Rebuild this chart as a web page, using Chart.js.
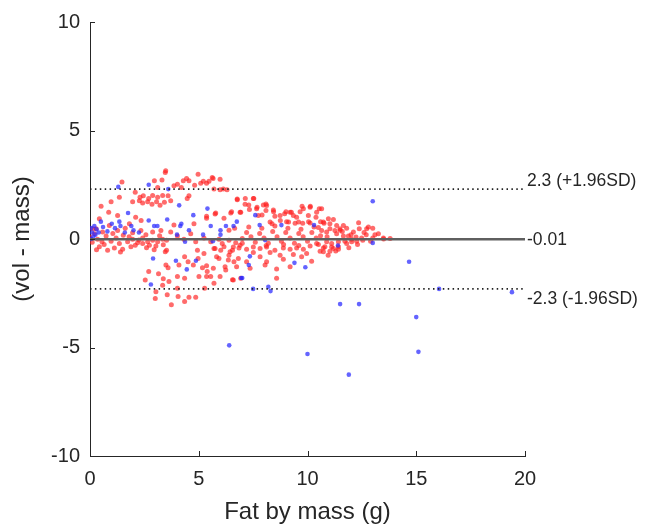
<!DOCTYPE html>
<html>
<head>
<meta charset="utf-8">
<script src="https://cdn.jsdelivr.net/npm/chart.js@4"></script>
<style>
  html, body { margin: 0; padding: 0; background: #fff; }
  #wrap { width: 647px; height: 529px; }
</style>
</head>
<body>
<div id="wrap"><canvas id="baChart" width="647" height="529"></canvas></div>
<script>
// Titik merah: [fat by mass, vol - mass]
const redPoints = [
    [1.47,2.63],[2.96,2.68],[3.31,2.72],[3.46,3.06],[3.11,2.37],[2.08,2.15],[1.35,1.92],[0.97,1.72],
    [2.3,1.92],[2.45,1.99],[2.7,1.87],[2.88,2.0],[3.11,1.92],[3.34,2.0],
    [1.96,1.72],[2.27,1.76],[2.42,1.66],[2.65,1.72],[2.85,1.6],[3.06,1.72],[3.22,1.56],[3.42,1.69],
    [0.51,1.51],[0.86,1.23],[1.27,1.08],[2.1,1.0],[2.35,0.85],[1.81,0.7],[0.43,0.93],[0.12,0.47],
    [0.0,0.09],[0.2,0.24],[0.35,-0.01],[0.55,-0.13],[0.74,0.14],[0.97,-0.1],[1.2,0.05],[1.35,-0.21],
    [1.53,0.17],[1.73,-0.13],[1.96,-0.01],[2.19,-0.17],[2.42,0.05],[2.65,-0.13],[2.88,-0.06],[3.11,-0.13],
    [3.34,-0.01],[0.43,-0.36],[0.81,-0.52],[1.12,-0.41],[1.5,-0.47],[1.88,-0.36],[0.58,0.32],[0.28,0.47],
    [1.27,0.39],[1.96,0.29],[2.34,0.39],[3.26,0.39],[2.88,0.32],[1.62,0.5],[0.89,0.62],[2.57,0.2],
    [2.08,-0.29],[2.42,-0.21],[2.73,-0.29],[3.03,-0.32],[3.37,-0.26],
    [0.1,-0.15],[0.65,-0.25],[1.05,0.25],[1.8,0.1],[2.25,-0.05],[2.6,-0.4],[3.2,0.15],[1.4,-0.6],[0.3,-0.5],[2.95,-0.5],
    [2.54,-1.89],[3.03,-2.43],[3.0,-2.74],[3.34,-2.13],[3.37,-1.83],[3.49,-1.2],[3.46,-0.59],[2.7,-1.5],[3.15,-1.6],
    [3.48,3.14],[4.44,2.79],[4.29,2.68],[4.55,2.68],[4.97,2.98],[5.62,2.83],[5.98,2.75],[4.02,2.52],
    [3.86,2.45],[4.2,2.37],[4.81,2.48],[5.09,2.57],[5.36,2.57],[5.7,2.3],[6.13,2.3],[3.59,1.99],
    [3.71,1.76],[4.55,1.99],[4.47,1.87],[6.77,1.84],[5.78,1.2],[6.16,0.96],[6.47,1.2],[6.93,1.23],
    [5.36,1.05],[6.39,0.4],[6.65,0.5],[3.86,0.65],[4.78,0.7],
    [5.66,2.79],[5.21,2.66],[5.47,2.66],[5.98,2.27],[6.3,2.27],
    [3.52,-0.06],[3.52,-0.52],[3.71,0.32],[4.02,0.14],[4.32,-0.01],[4.63,0.24],[4.86,-0.13],[5.24,0.05],
    [5.55,-0.13],[5.93,-0.01],[6.08,-0.21],[6.39,-0.06],[6.7,-0.17],[7.0,0.02],[5.7,-0.44],[6.16,-0.36],
    [6.55,-0.52],[6.85,-0.41],
    [4.94,-0.52],[4.97,-0.9],[5.24,-0.67],[4.75,-1.2],[5.17,-1.32],[5.36,-1.23],[5.39,-1.5],[5.01,-1.73],
    [5.55,-1.73],[4.35,-0.82],[4.51,-1.05],[4.09,-1.2],[3.59,-1.32],[4.02,-1.73],[4.35,-1.81],[3.63,-1.96],
    [4.02,-2.27],[3.55,-2.57],[4.05,-2.65],[4.55,-2.69],[4.86,-2.69],[3.74,-3.03],[4.35,-2.88],[5.93,-0.9],
    [6.39,-0.75],[6.62,-1.05],[6.24,-1.43],[6.55,-1.88],[6.93,-1.81],[5.7,-2.04],[5.27,-2.27],
    [5.75,-0.44],[6.01,-0.52],[6.44,-0.59],[6.59,-0.37],[6.9,-0.29],[7.2,-0.47],[7.51,-0.37],[7.82,-0.44],
    [8.12,-0.37],[8.5,-0.52],[8.89,-0.41],[9.2,-0.47],[9.5,-0.41],[9.81,-0.47],[10.12,-0.32],[10.42,-0.21],
    [10.73,-0.41],[11.11,-0.37],[11.42,-0.47],[11.8,-0.21],[7.51,-0.62],[8.28,-0.62],[8.74,-0.75],[9.35,-0.72],
    [9.96,-0.67],[10.58,-0.56],[5.82,-0.82],[6.36,-0.97],[6.82,-0.9],[7.2,-1.05],[7.82,-0.82],[8.12,-1.05],
    [8.89,-0.93],[9.73,-0.82],[10.19,-1.02],[5.67,-1.35],[6.21,-1.28],[6.74,-1.28],[7.36,-1.35],[8.05,-1.2],
    [8.58,-1.38],[9.2,-1.28],[5.36,-1.73],[5.98,-1.73],[6.59,-1.89],[8.58,-1.81],
    [6.77,1.81],[7.51,1.87],[7.13,1.6],[7.33,1.36],[6.9,1.23],[6.51,1.26],[5.75,1.15],[5.36,0.96],
    [7.97,1.57],[8.12,1.54],[8.09,1.31],[7.74,1.08],[7.66,1.39],[8.43,1.34],[8.5,1.05],[8.28,0.78],
    [8.74,1.08],[9.01,1.26],[9.2,1.23],[9.35,1.08],[9.5,1.0],[9.66,1.26],[9.81,1.39],[10.12,1.46],
    [10.04,1.08],[10.42,1.23],[10.6,0.8],[10.96,0.93],[11.19,0.9],[11.34,0.62],[11.65,0.62],[9.04,0.8],
    [9.43,0.73],[9.78,0.73],[10.12,0.74],[10.5,0.53],[10.76,0.73],[11.03,0.47],[11.5,0.4],
    [7.14,1.87],[7.53,1.87],[7.3,1.57],[7.68,1.46],[8.09,1.61],[7.91,1.11],[8.44,1.26],[8.95,1.16],
    [9.26,1.23],[9.75,1.51],[10.13,1.51],[10.54,1.39],[9.13,0.78],[9.59,0.78],[10.05,0.8],[10.39,1.0],
    [8.37,0.7],[8.75,0.85],
    [7.2,0.3],[7.4,0.1],[7.6,-0.15],[7.8,0.25],[8.0,0.05],[8.2,-0.2],[8.4,0.35],[8.6,0.1],
    [8.8,-0.1],[9.0,0.3],[9.2,0.05],[9.4,-0.2],[9.6,0.25],[9.8,0.1],[10.0,-0.1],[10.2,0.3],
    [10.4,0.05],[10.6,0.15],[7.3,0.55],[7.9,0.5],[8.5,0.6],[9.1,0.5],[9.7,0.45],[10.3,0.55],
    [7.0,-0.2],[8.1,-0.3],[8.9,-0.25],[9.6,-0.3],[10.5,-0.25],[10.9,0.1],[11.6,0.35],[12.0,0.2],
    [12.7,0.2],[12.9,-0.1],[12.6,0.3],[13.0,0.05],[13.5,0.0],[13.8,0.02],[12.3,-0.25],[11.9,-0.4],
    [11.3,-0.55],[10.95,-0.75],[12.35,0.75],[13.0,0.5],
    [10.65,1.39],[10.73,0.78],[11.03,0.7],
    [10.65,0.39],[10.88,0.32],[11.26,0.39],[11.34,0.24],[11.49,0.47],[11.8,0.5],[12.11,0.32],[12.38,0.47],
    [12.72,0.47],[12.8,0.55],[13.1,0.2],[13.26,0.24],[13.49,0.05],[11.65,0.14],[11.88,0.14],[12.03,-0.01],
    [12.23,0.09],[12.49,0.05],[10.88,-0.13],[11.11,-0.21],[11.42,-0.13],[11.72,-0.1],[12.03,-0.13],[12.26,-0.1],
    [12.54,-0.06],[10.8,-0.36],[11.19,-0.44],[11.42,-0.36],[10.73,-0.59],[11.03,-0.56]
];

// Titik biru
const bluePoints = [
    [13.0,1.74],[13.0,-0.18],[14.67,-1.05],[16.05,-2.3],[19.4,-2.45],[11.5,-3.0],[12.37,-3.0],[15.0,-3.6],
    [6.4,-4.9],[10.0,-5.3],[15.1,-5.2],[11.9,-6.25],[11.4,-0.3],
    [7.5,-2.3],[8.2,-2.2],[8.3,-2.4],[7.0,-1.8],[9.4,-1.1],[9.9,-1.3],[7.35,-0.8],[8.05,-0.05],
    [7.6,1.1],[7.8,0.64],[8.8,0.64],[10.3,0.64],
    [5.4,1.4],[5.55,0.6],[5.2,0.2],[6.0,0.4],[6.0,0.2],[5.65,-0.1],[6.25,0.6],[6.6,0.6],[6.75,0.8],[7.3,-1.2],
    [3.6,2.3],[4.1,1.55],[3.55,0.9],[4.2,0.7],[4.15,0.6],[4.0,0.2],[4.55,0.4],[4.37,-0.13],[4.75,1.1],
    [3.95,-1.0],[4.87,-1.0],[4.45,-1.4],[6.95,-1.8],
    [1.3,2.4],[2.7,2.5],[1.75,1.2],[0.5,0.8],[0.6,0.55],[1.0,0.7],[1.35,0.8],[1.4,0.6],[1.6,0.3],
    [1.9,0.6],[2.0,0.4],[2.25,0.3],[2.7,0.85],[2.95,0.6],[3.1,0.6],[2.9,-0.9],[2.8,-2.1],
    [0.4,0.3],[0.05,0.5],[0.1,0.3],[0.15,0.1],[0.2,0.6],[0.25,0.2],[0.3,0.45],[0.8,0.35],[1.15,0.5],[0.05,0.0]
];

// Garis referensi: rata-rata dan batas kesepakatan
const meanValue = -0.01;
const limitValues = [2.3, -2.3];
const lineLabels = ['2.3 (+1.96SD)', '-0.01', '-2.3 (-1.96SD)'];
const labelValues = [2.3, -0.01, -2.3];
const xRange = [0, 20];
const xTicks = [0, 5, 10, 15, 20];
const yTicks = [-10, -5, 0, 5, 10];

const axisColor = '#262626';
const fontFamily = "'Liberation Sans', Arial, Helvetica, sans-serif";

const toXY = (arr) => arr.map(p => ({ x: p[0], y: p[1] }));
const hLine = (v) => [{ x: xRange[0], y: v }, { x: xRange[1], y: v }];

/**
 * Plugin: tick ke dalam ala MATLAB dan label garis di kanan
 */
const extrasPlugin = {
    id: 'baExtras',
    afterDraw(chart) {
        const { ctx, chartArea, scales: { x, y } } = chart;
        ctx.save();
        ctx.strokeStyle = axisColor;
        ctx.lineWidth = 1;
        xTicks.forEach(v => {
            const px = Math.round(x.getPixelForValue(v)) + 0.5;
            ctx.beginPath();
            ctx.moveTo(px, chartArea.bottom);
            ctx.lineTo(px, chartArea.bottom - 5);
            ctx.stroke();
        });
        yTicks.forEach(v => {
            const py = Math.round(y.getPixelForValue(v)) + 0.5;
            ctx.beginPath();
            ctx.moveTo(chartArea.left, py);
            ctx.lineTo(chartArea.left + 5, py);
            ctx.stroke();
        });

        ctx.fillStyle = axisColor;
        ctx.font = `17.5px ${fontFamily}`;
        ctx.textAlign = 'left';
        const lx = x.getPixelForValue(xRange[1]) + 2;
        lineLabels.forEach((txt, i) => {
            const py = y.getPixelForValue(labelValues[i]);
            if (i === 0) {
                ctx.textBaseline = 'bottom';
                ctx.fillText(txt, lx, py + 1);
            } else if (i === 1) {
                ctx.textBaseline = 'middle';
                ctx.fillText(txt, lx, py + 1);
            } else {
                ctx.textBaseline = 'top';
                ctx.fillText(txt, lx, py + 2);
            }
        });
        ctx.restore();
    }
};

const ctx = document.getElementById('baChart');
new Chart(ctx, {
    type: 'scatter',
    data: {
        datasets: [
            {
                type: 'line',
                data: hLine(meanValue),
                borderColor: '#5f5f5f',
                borderWidth: 2.5,
                pointRadius: 0,
                order: 0
            },
            {
                type: 'line',
                data: hLine(limitValues[0]),
                borderColor: '#222',
                borderWidth: 1.6,
                borderDash: [1.5, 3.4],
                pointRadius: 0,
                order: 0
            },
            {
                type: 'line',
                data: hLine(limitValues[1]),
                borderColor: '#222',
                borderWidth: 1.6,
                borderDash: [1.5, 3.4],
                pointRadius: 0,
                order: 0
            },
            {
                data: toXY(bluePoints),
                backgroundColor: 'rgba(40,40,255,0.72)',
                borderWidth: 0,
                pointRadius: 2.3,
                order: 1
            },
            {
                data: toXY(redPoints),
                backgroundColor: 'rgba(255,30,30,0.66)',
                borderWidth: 0,
                pointRadius: 2.5,
                order: 2
            }
        ]
    },
    options: {
        responsive: false,
        animation: false,
        layout: { padding: { top: 18, right: 122, left: 0, bottom: 0 } },
        plugins: {
            legend: { display: false },
            tooltip: { enabled: false }
        },
        scales: {
            x: {
                type: 'linear',
                min: 0,
                max: 20,
                afterFit: (s) => { s.height = 73; },
                afterBuildTicks: (s) => { s.ticks = xTicks.map(v => ({ value: v })); },
                grid: { display: false, drawTicks: false },
                border: { display: true, color: axisColor, width: 1 },
                ticks: {
                    padding: 11,
                    color: axisColor,
                    font: { family: fontFamily, size: 20 }
                },
                title: {
                    display: true,
                    text: 'Fat by mass (g)',
                    color: axisColor,
                    font: { family: fontFamily, size: 24 },
                    padding: { top: 0, bottom: 2 }
                }
            },
            y: {
                type: 'linear',
                min: -10,
                max: 10,
                afterFit: (s) => { s.width = 90; },
                afterBuildTicks: (s) => { s.ticks = yTicks.map(v => ({ value: v })); },
                grid: { display: false, drawTicks: false },
                border: { display: true, color: axisColor, width: 1 },
                ticks: {
                    padding: 10,
                    color: axisColor,
                    font: { family: fontFamily, size: 20 }
                },
                title: {
                    display: true,
                    text: '(vol - mass)',
                    color: axisColor,
                    font: { family: fontFamily, size: 24 },
                    padding: { top: 8, bottom: 0 }
                }
            }
        }
    },
    plugins: [extrasPlugin]
});
</script>
</body>
</html>
